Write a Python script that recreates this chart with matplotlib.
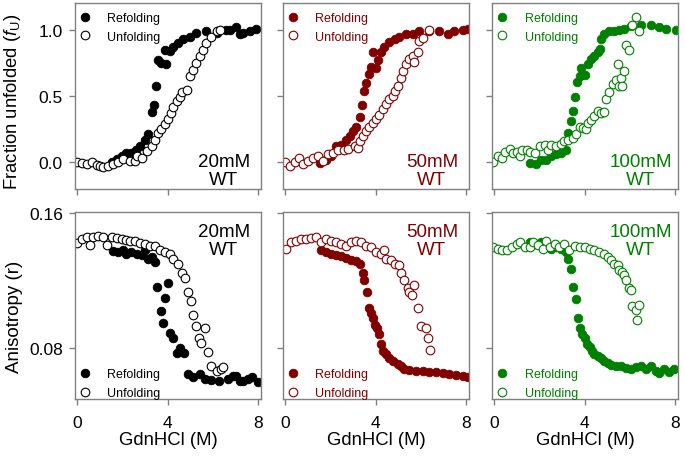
"""
GdnHCl denaturation: fraction unfolded and anisotropy, 20/50/100 mM
"""
import matplotlib
matplotlib.use("Agg")
import matplotlib.pyplot as plt

plt.rcParams["font.family"] = ["Liberation Sans", "DejaVu Sans"]
plt.rcParams["mathtext.fontset"] = "custom"
plt.rcParams["mathtext.rm"] = "Liberation Sans"
plt.rcParams["mathtext.it"] = "Liberation Sans:italic"

# ---- fraction unfolded, 20 mM ----
fu20_ref_x = [1.52, 1.74, 1.96, 2.18, 2.4, 2.6, 2.78, 3.0, 3.15, 3.3, 3.4, 3.48,
              3.58, 3.73, 3.88, 3.95, 4.1, 4.25, 4.47, 4.69, 5.0, 5.28, 5.72,
              6.17, 6.6, 6.76, 7.05, 7.2, 7.35, 7.64, 7.94]
fu20_ref_y = [0.0, 0.025, 0.05, 0.068, 0.07, 0.09, 0.12, 0.17, 0.21, 0.38, 0.43,
              0.58, 0.77, 0.75, 0.85, 0.74, 0.84, 0.87, 0.90, 0.93, 0.95, 0.98,
              0.99, 0.98, 1.0, 1.0, 1.02, 0.97, 0.98, 0.99, 1.01]
fu20_unf_x = [-0.03, 0.2, 0.42, 0.64, 0.86, 1.0, 1.15, 1.38, 1.6, 1.82, 2.04,
              2.33, 2.55, 2.63, 2.85, 3.07, 3.3, 3.44, 3.58, 3.73, 3.88, 4.03,
              4.17, 4.25, 4.4, 4.54, 4.66, 4.84, 4.98, 5.13, 5.28, 5.43, 5.58,
              5.72, 5.94, 6.17, 6.32]
fu20_unf_y = [0.0, -0.005, -0.01, 0.0, -0.02, -0.025, -0.035, -0.025, -0.01,
              0.0, 0.025, 0.01, 0.01, 0.05, 0.035, 0.085, 0.12, 0.17, 0.22,
              0.25, 0.29, 0.33, 0.37, 0.42, 0.46, 0.49, 0.53, 0.55, 0.65, 0.7,
              0.75, 0.8, 0.85, 0.9, 0.95, 0.99, 1.0]

# ---- fraction unfolded, 50 mM ----
fu50_ref_x = [1.52, 1.81, 2.03, 2.26, 2.48, 2.7, 2.85, 2.99, 3.14, 3.29, 3.41,
              3.51, 3.58, 3.73, 3.8, 3.88, 4.03, 4.1, 4.25, 4.39, 4.61, 4.84,
              5.06, 5.35, 5.65, 5.94, 6.38, 6.83, 7.2, 7.49, 7.86, 8.08]
fu50_ref_y = [-0.005, 0.02, 0.05, 0.12, 0.13, 0.17, 0.2, 0.24, 0.27, 0.34, 0.43,
              0.54, 0.6, 0.67, 0.72, 0.83, 0.71, 0.77, 0.83, 0.87, 0.91, 0.93,
              0.95, 0.97, 0.97, 0.99, 0.99, 0.99, 0.97, 0.99, 1.0, 1.01]
fu50_unf_x = [-0.03, 0.19, 0.41, 0.63, 0.78, 1.0, 1.22, 1.44, 1.66, 1.88, 2.1,
              2.33, 2.62, 2.77, 3.07, 3.21, 3.29, 3.43, 3.58, 3.73, 3.88, 4.03,
              4.17, 4.32, 4.47, 4.61, 4.76, 4.84, 4.98, 5.13, 5.23, 5.35, 5.5,
              5.65, 5.72, 5.87, 5.94, 6.09, 6.38]
fu50_unf_y = [0.0, -0.03, 0.0, 0.03, -0.01, 0.01, 0.03, 0.05, 0.01, 0.06, 0.07,
              0.09, 0.09, 0.1, 0.12, 0.11, 0.16, 0.2, 0.24, 0.27, 0.3, 0.33,
              0.36, 0.4, 0.44, 0.48, 0.5, 0.54, 0.58, 0.64, 0.69, 0.74, 0.78,
              0.8, 0.76, 0.83, 0.92, 0.94, 1.0]

# ---- fraction unfolded, 100 mM ----
fu100_ref_x = [1.57, 1.87, 2.09, 2.31, 2.53, 2.75, 2.97, 3.19, 3.26, 3.38, 3.48,
               3.58, 3.66, 3.78, 3.85, 4.0, 4.14, 4.29, 4.44, 4.58, 4.69, 4.73,
               4.88, 5.1, 5.32, 5.54, 5.76, 6.05, 6.49, 6.93, 7.3, 7.59, 8.04]
fu100_ref_y = [-0.005, -0.01, 0.015, 0.02, 0.05, 0.06, 0.07, 0.09, 0.22, 0.31,
               0.39, 0.49, 0.61, 0.65, 0.71, 0.66, 0.74, 0.78, 0.8, 0.83, 0.86,
               0.93, 0.97, 0.99, 0.99, 1.0, 1.01, 1.03, 1.04, 1.04, 1.02, 1.01,
               1.0]
fu100_unf_x = [-0.04, 0.18, 0.33, 0.47, 0.69, 0.84, 0.99, 1.13, 1.21, 1.43, 1.57,
               1.79, 2.01, 2.23, 2.38, 2.53, 2.75, 2.97, 3.11, 3.26, 3.48, 3.63,
               3.78, 3.92, 4.07, 4.14, 4.29, 4.44, 4.58, 4.73, 4.88, 4.95, 5.1,
               5.24, 5.39, 5.54, 5.61, 5.68, 5.76, 5.46, 5.83, 5.98, 6.12, 6.27,
               6.42]
fu100_unf_y = [0.0, 0.05, 0.03, 0.08, 0.1, 0.07, 0.08, 0.05, 0.09, 0.09, 0.08,
               0.07, 0.12, 0.13, 0.09, 0.13, 0.12, 0.14, 0.16, 0.17, 0.18, 0.21,
               0.27, 0.26, 0.25, 0.3, 0.32, 0.35, 0.39, 0.37, 0.38, 0.48, 0.53,
               0.59, 0.62, 0.58, 0.64, 0.58, 0.69, 0.74, 0.89, 0.85, 1.04, 1.1,
               0.99]

# ---- anisotropy, 20 mM ----
an20_ref_x = [1.6, 1.82, 2.04, 2.18, 2.4, 2.63, 2.85, 3.0, 3.15, 3.3, 3.44, 3.54,
              3.73, 3.8, 3.88, 4.03, 4.13, 4.25, 4.4, 4.54, 4.71, 4.92, 5.14,
              5.43, 5.65, 5.94, 6.3, 6.67, 6.9, 7.05, 7.2, 7.35, 7.57, 7.72, 8.0]
an20_ref_y = [0.1374, 0.1368, 0.1378, 0.1359, 0.1368, 0.1359, 0.1349, 0.1378,
              0.1329, 0.1339, 0.131, 0.1164, 0.1024, 0.095, 0.1096, 0.1184,
              0.0891, 0.0862, 0.0775, 0.0804, 0.0775, 0.065, 0.063, 0.065,
              0.062, 0.0617, 0.0611, 0.062, 0.0636, 0.0638, 0.0611, 0.0611,
              0.062, 0.063, 0.0601]
an20_unf_x = [-0.03, 0.19, 0.42, 0.56, 0.71, 0.93, 1.15, 1.3, 1.52, 1.74, 1.96,
              2.18, 2.33, 2.55, 2.78, 3.0, 3.22, 3.44, 3.66, 3.88, 4.1, 4.25,
              4.47, 4.62, 4.77, 4.92, 5.02, 5.11, 5.25, 5.4, 5.5, 5.65, 5.8,
              5.94, 6.17, 6.39, 6.46]
an20_unf_y = [0.1421, 0.1446, 0.146, 0.1413, 0.146, 0.1466, 0.1455, 0.1413,
              0.1455, 0.145, 0.1446, 0.144, 0.1436, 0.1432, 0.142, 0.1417,
              0.1407, 0.1402, 0.138, 0.137, 0.136, 0.133, 0.1301, 0.1243,
              0.1214, 0.1136, 0.1078, 0.1, 0.0932, 0.0864, 0.0835, 0.0922,
              0.0777, 0.0699, 0.067, 0.068, 0.0689]

# ---- anisotropy, 50 mM ----
an50_ref_x = [1.59, 1.81, 2.04, 2.26, 2.48, 2.7, 2.92, 3.14, 3.33, 3.43, 3.51,
              3.61, 3.7, 3.81, 3.88, 3.98, 4.07, 4.15, 4.25, 4.32, 4.47, 4.61,
              4.76, 4.98, 5.13, 5.28, 5.5, 5.8, 6.09, 6.38, 6.68, 6.97, 7.27,
              7.56, 7.86, 8.08]
an50_ref_y = [0.1382, 0.1368, 0.1359, 0.1353, 0.1343, 0.1335, 0.1323, 0.1316,
              0.1296, 0.1243, 0.1204, 0.1135, 0.1038, 0.1009, 0.098, 0.0941,
              0.0922, 0.0883, 0.0825, 0.0784, 0.0768, 0.0746, 0.0727, 0.0707,
              0.0698, 0.068, 0.0674, 0.0669, 0.0669, 0.0663, 0.0659, 0.0654,
              0.065, 0.0643, 0.0638, 0.063]
an50_unf_x = [0.04, 0.27, 0.49, 0.71, 0.93, 1.15, 1.37, 1.59, 1.81, 2.04, 2.26,
              2.48, 2.7, 2.92, 3.14, 3.36, 3.58, 3.81, 4.03, 4.25, 4.39, 4.47,
              4.69, 4.84, 5.03, 5.13, 5.28, 5.42, 5.5, 5.62, 5.72, 5.87, 6.02,
              6.24, 6.31, 6.42]
an50_unf_y = [0.1388, 0.1427, 0.1436, 0.1446, 0.1446, 0.1452, 0.146, 0.1427,
              0.1446, 0.1436, 0.1427, 0.1417, 0.1407, 0.1427, 0.1436, 0.1427,
              0.1407, 0.1398, 0.1368, 0.1359, 0.1378, 0.1329, 0.132, 0.1301,
              0.1291, 0.1243, 0.1204, 0.1155, 0.1135, 0.1116, 0.1174, 0.1038,
              0.0932, 0.0922, 0.0864, 0.0792]

# ---- anisotropy, 100 mM ----
an100_ref_x = [1.57, 1.79, 2.09, 2.31, 2.53, 2.75, 2.97, 3.16, 3.26, 3.41, 3.51,
               3.6, 3.7, 3.81, 3.89, 4.0, 4.1, 4.22, 4.33, 4.44, 4.58, 4.73,
               4.88, 5.02, 5.17, 5.39, 5.61, 5.83, 6.05, 6.27, 6.49, 6.71, 6.93,
               7.15, 7.3, 7.52, 7.74, 7.96]
an100_ref_y = [0.1427, 0.1417, 0.1427, 0.1397, 0.1388, 0.1397, 0.1388, 0.1368,
               0.1329, 0.1271, 0.1164, 0.109, 0.0979, 0.0922, 0.0883, 0.0864,
               0.0825, 0.0806, 0.0786, 0.0767, 0.0753, 0.0741, 0.0727, 0.0717,
               0.0702, 0.0698, 0.0694, 0.0682, 0.0678, 0.0688, 0.0698, 0.0678,
               0.0698, 0.0669, 0.0654, 0.0678, 0.0659, 0.0678]
an100_unf_x = [-0.04, 0.18, 0.33, 0.55, 0.77, 0.99, 1.13, 1.35, 1.57, 1.72, 1.94,
               2.16, 2.31, 2.45, 2.67, 2.89, 3.11, 3.33, 3.56, 3.78, 4.0, 4.22,
               4.44, 4.66, 4.88, 5.02, 5.17, 5.32, 5.46, 5.54, 5.68, 5.76, 5.83,
               5.98, 6.05, 6.12, 6.27, 6.42, 6.33]
an100_unf_y = [0.1401, 0.1388, 0.1378, 0.1382, 0.1397, 0.1417, 0.1427, 0.1401,
               0.1397, 0.1427, 0.1413, 0.1388, 0.1432, 0.1401, 0.1417, 0.1397,
               0.1417, 0.1382, 0.1407, 0.1397, 0.1401, 0.1388, 0.1378, 0.1368,
               0.1359, 0.1339, 0.132, 0.1301, 0.1291, 0.1262, 0.1252, 0.1233,
               0.1204, 0.1155, 0.1145, 0.1048, 0.1028, 0.1058, 0.097]

CONDITIONS = ["20mM", "50mM", "100mM"]
COLOURS = ["black", "#800000", "#008000"]
OUTPUT = "out.png"

top_data = [(fu20_ref_x, fu20_ref_y, fu20_unf_x, fu20_unf_y),
            (fu50_ref_x, fu50_ref_y, fu50_unf_x, fu50_unf_y),
            (fu100_ref_x, fu100_ref_y, fu100_unf_x, fu100_unf_y)]
bottom_data = [(an20_ref_x, an20_ref_y, an20_unf_x, an20_unf_y),
               (an50_ref_x, an50_ref_y, an50_unf_x, an50_unf_y),
               (an100_ref_x, an100_ref_y, an100_unf_x, an100_unf_y)]


def style_axes(ax):
    """grey box, outward ticks"""
    for spine in ax.spines.values():
        spine.set_color("#808080")
        spine.set_linewidth(1.0)
    ax.tick_params(direction="out", length=4.3, width=1.0, color="#808080",
                   labelsize=12.5)
    ax.tick_params(axis="x", pad=7.5)
    ax.tick_params(axis="y", pad=4.5)
    ax.set_xlim(-0.1, 8.14)
    ax.set_xticks([0, 4, 8])


def draw_panel(ax, data, colour, legend_loc, anchor):
    """refolding (filled) and unfolding (open) points"""
    ref_x, ref_y, unf_x, unf_y = data
    ax.plot(ref_x, ref_y, "o", color=colour, markersize=6.2,
            markeredgewidth=0.6, label="Refolding")
    ax.plot(unf_x, unf_y, "o", markerfacecolor="white", markeredgecolor=colour,
            markersize=6.2, markeredgewidth=0.8, label="Unfolding")
    leg = ax.legend(loc=legend_loc, bbox_to_anchor=anchor, frameon=False,
                    fontsize=9, handlelength=0.8, handletextpad=1.4,
                    labelspacing=0.53, borderaxespad=0.2, borderpad=0.2)
    for text in leg.get_texts():
        text.set_color(colour)


fig = plt.figure(figsize=(6.85, 4.6), dpi=100)
lefts = [75 / 685, 283 / 685, 492 / 685]
width = 186 / 685

for col in range(3):
    colour = COLOURS[col]

    # top row: fraction unfolded
    ax = fig.add_axes([lefts[col], 270 / 460, width, 186 / 460])
    style_axes(ax)
    draw_panel(ax, top_data[col], colour, "upper left", (0, 0.978))
    ax.set_ylim(-0.202, 1.204)
    ax.set_yticks([0.0, 0.5, 1.0])
    ax.set_xticklabels([])
    if col == 0:
        ax.set_yticklabels(["0.0", "0.5", "1.0"])
        ax.set_ylabel(r"Fraction unfolded ($\mathit{f}_\mathrm{U}$)",
                      fontsize=13.3)
        ax.yaxis.set_label_coords(-0.28, 0.473)
    else:
        ax.set_yticklabels([])
    ax.text(0.8, 0.097, CONDITIONS[col] + "\nWT", transform=ax.transAxes,
            ha="center", va="center", color=colour, fontsize=13.5,
            linespacing=1.08)

    # bottom row: anisotropy
    ax = fig.add_axes([lefts[col], 60 / 460, width, 187 / 460])
    style_axes(ax)
    draw_panel(ax, bottom_data[col], colour, "lower left", (0, -0.027))
    ax.set_ylim(0.0502, 0.1605)
    ax.set_yticks([0.08, 0.16])
    ax.set_xticklabels(["0", "4", "8"])
    ax.set_xlabel("GdnHCl (M)", fontsize=13.3, labelpad=0.5)
    if col == 0:
        ax.set_yticklabels(["0.08", "0.16"])
        ax.set_ylabel("Anisotropy (r)", fontsize=13.5)
        ax.yaxis.set_label_coords(-0.28, 0.444)
    else:
        ax.set_yticklabels([])
    ax.text(0.8, 0.85, CONDITIONS[col] + "\nWT", transform=ax.transAxes,
            ha="center", va="center", color=colour, fontsize=13.5,
            linespacing=1.08)

fig.savefig(OUTPUT, dpi=100)
plt.close(fig)
